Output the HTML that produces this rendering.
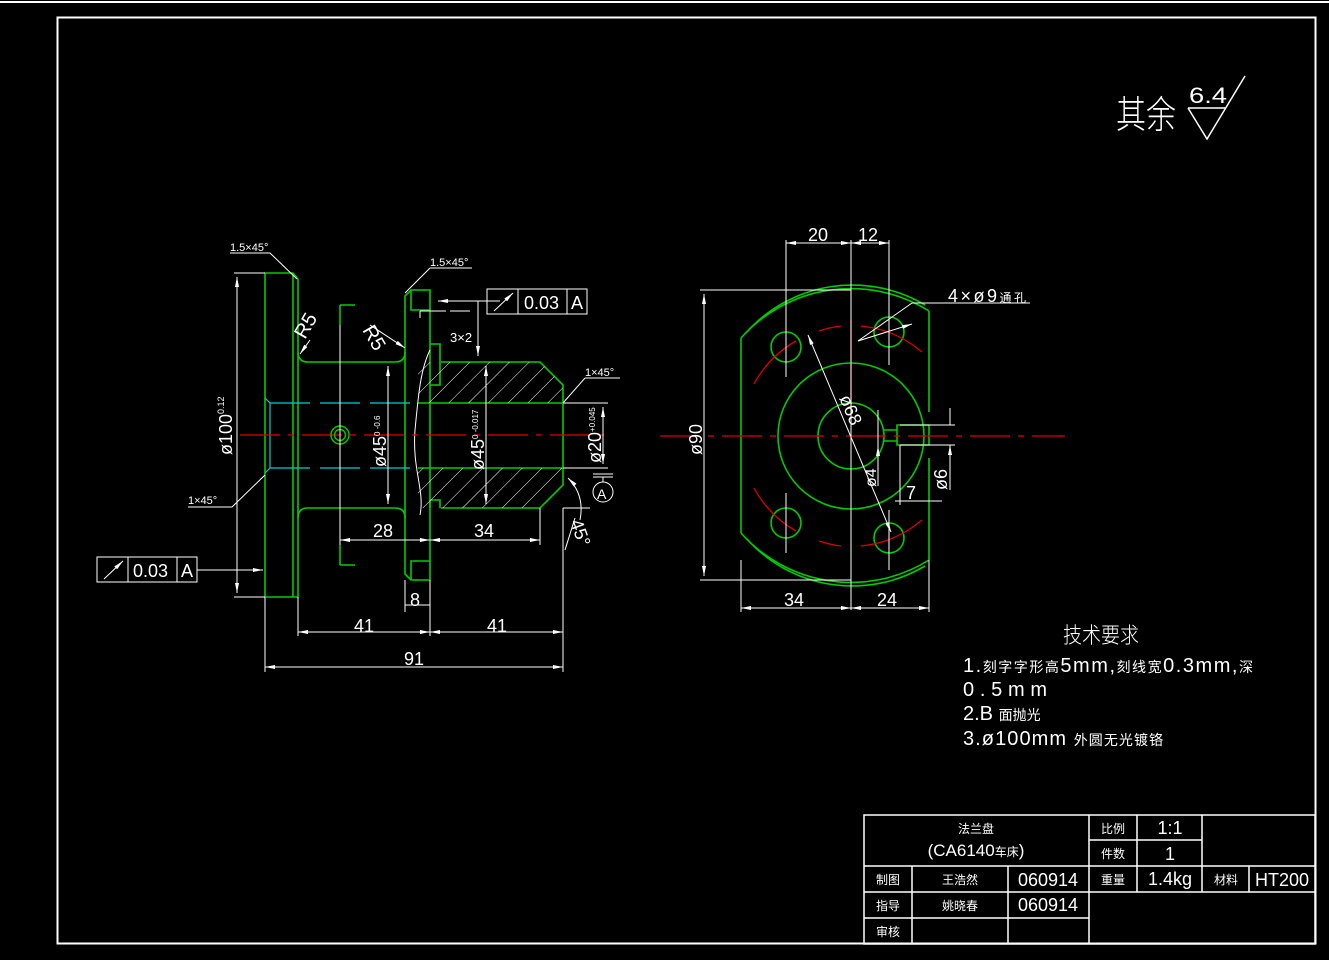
<!DOCTYPE html>
<html><head><meta charset="utf-8"><style>
html,body{margin:0;padding:0;background:#000;width:1329px;height:960px;overflow:hidden}
svg{display:block}
text{font-family:"Liberation Sans","Noto Sans CJK SC",sans-serif;fill:#fff}
</style></head><body>
<svg width="1329" height="960" viewBox="0 0 1329 960" xmlns="http://www.w3.org/2000/svg">
<defs>
<marker id="ar" viewBox="0 0 10 4" refX="10" refY="2" markerWidth="10" markerHeight="4" orient="auto-start-reverse" markerUnits="userSpaceOnUse"><path d="M0,0L10,2L0,4z" fill="#fff"/></marker>
<pattern id="hat" patternUnits="userSpaceOnUse" width="14" height="14" patternTransform="rotate(45)"><line x1="0" y1="0" x2="0" y2="14" stroke="#fff" stroke-width="1"/></pattern>
</defs>
<rect width="1329" height="960" fill="#000"/>
<line x1="0" y1="2" x2="1329" y2="2" stroke="#fff" stroke-width="2"/>
<rect x="57.5" y="17.5" width="1258" height="926" fill="none" stroke="#fff" stroke-width="2"/>

<text x="1116" y="128" font-size="38" font-family="Noto Sans CJK SC" font-weight="200" textLength="60" lengthAdjust="spacingAndGlyphs">其余</text>
<text x="1189" y="103" font-size="22" textLength="38" lengthAdjust="spacingAndGlyphs">6.4</text>
<path d="M1188,108H1226M1188,108L1207,139L1245,76" fill="none" stroke="#fff" stroke-width="1.5"/>

<!-- ============ LEFT VIEW ============ -->
<g fill="none" stroke="#0c0" stroke-width="1.6">
<path d="M265,273H293L298,279V597H265Z"/>
<path d="M293,273V597"/>
<path d="M298,352Q298,362 308,362H395Q405,362 405,352"/>
<path d="M298,518Q298,508 308,508H395Q405,508 405,518"/>
<path d="M405,296L411,290H430V580H411L405,574Z"/>
<path d="M411,290V310H430M411,580V561H430"/>
<path d="M441,362H540L563,385V485L540,508H441"/>
<path d="M430,344H440V385H430M430,508V500H440V508"/>
<path d="M418,403H563M418,468H563"/>
<path d="M340,305V325M340,305H355M340,565V545M340,565H355"/>
</g>
<rect x="418" y="362" width="122" height="41" fill="url(#hat)"/>
<path d="M540,362L563,385V403H540Z" fill="url(#hat)"/>
<rect x="418" y="468" width="122" height="40" fill="url(#hat)"/>
<path d="M540,508L563,485V468H540Z" fill="url(#hat)"/>
<path d="M430,350C420,370 418,400 415,430C412,470 425,490 420,515" fill="none" stroke="#fff" stroke-width="1"/>
<g stroke="#0cc" stroke-width="1.2" stroke-dasharray="40,10">
<path d="M270,403H418M270,468H418"/>
</g>
<path d="M265,398L270,403V468L265,473" fill="none" stroke="#0cc" stroke-width="1.2"/>
<line x1="240" y1="435" x2="610" y2="435" stroke="#d00" stroke-width="1.2" stroke-dasharray="40,8,6,8"/>
<circle cx="340" cy="435" r="9" fill="none" stroke="#0c0" stroke-width="1.4"/>
<circle cx="340" cy="435" r="5.5" fill="none" stroke="#0c0" stroke-width="1.4"/>

<g stroke="#fff" stroke-width="1" fill="none">
<path d="M234,273H265M234,597H265"/>
<path d="M237,277V593" marker-start="url(#ar)" marker-end="url(#ar)"/>
<path d="M265,597V672M563,508V672M298,597V636M430,580V636"/>
<path d="M265,667H563" marker-start="url(#ar)" marker-end="url(#ar)"/>
<path d="M298,632H430" marker-start="url(#ar)" marker-end="url(#ar)"/>
<path d="M430,632H563" marker-start="url(#ar)" marker-end="url(#ar)"/>
<path d="M405,605H430"/><path d="M405,580V612M430,580V612"/>
<path d="M340,325V545"/>
<path d="M340,540H430" marker-start="url(#ar)" marker-end="url(#ar)"/>
<path d="M430,540H540" marker-start="url(#ar)" marker-end="url(#ar)"/>
<path d="M540,508V545M563,508H590"/>
<path d="M388,366V504" marker-start="url(#ar)" marker-end="url(#ar)"/>
<path d="M486,366V504" marker-start="url(#ar)" marker-end="url(#ar)"/>
<path d="M563,403H608M563,468H608"/>
<path d="M603,407V464" marker-start="url(#ar)" marker-end="url(#ar)"/>
<path d="M230,253H270L297,279"/>
<path d="M430,268H472M430,268L405,293"/>
<path d="M585,378H620M585,378L563,403"/>
<path d="M188,507H232L265,475"/>
<path d="M310,340L300,354" marker-end="url(#ar)"/>
<path d="M370,325L405,348" marker-end="url(#ar)"/>
<path d="M420,311H446M450,311H470M420,311V318"/>
<rect x="487" y="289" width="100" height="25"/>
<path d="M518,289V314M567,289V314"/>
<path d="M494,311L513,293" marker-end="url(#ar)"/>
<path d="M487,301H500"/>
<path d="M500,301H438" marker-end="url(#ar)"/>
<path d="M478,301V356" marker-end="url(#ar)"/>
<rect x="97" y="557" width="100" height="25"/>
<path d="M128,557V582M177,557V582"/>
<path d="M104,579L123,561" marker-end="url(#ar)"/>
<path d="M197,570H263" marker-end="url(#ar)"/>
<path d="M593,474H613M593,477H613M603,477V482"/>
<circle cx="603" cy="492" r="10"/>
<path d="M568,478Q585,495 580,520" marker-start="url(#ar)"/>
<path d="M575,518L565,550"/>
</g>
<g font-size="18">
<text x="373" y="537">28</text><text x="474" y="537">34</text>
<text x="354" y="632">41</text><text x="487" y="632">41</text>
<text x="404" y="665">91</text><text x="410" y="606">8</text>
<text x="524" y="309">0.03</text><text x="571" y="309">A</text>
<text x="133" y="577">0.03</text><text x="181" y="577">A</text>
<text x="597" y="499" font-size="14">A</text>
</g>
<g font-size="11">
<text x="230" y="251">1.5×45°</text><text x="430" y="266">1.5×45°</text>
<text x="585" y="376">1×45°</text><text x="188" y="504">1×45°</text>
<text x="450" y="342" font-size="13">3×2</text>
</g>
<text transform="translate(232,455) rotate(-90)" font-size="18">ø100<tspan font-size="9" dy="-8">0.12</tspan></text>
<text transform="translate(386,467) rotate(-90)" font-size="18">ø45<tspan font-size="8" dy="-6">0 -0.6</tspan></text>
<text transform="translate(484,470) rotate(-90)" font-size="18">ø45<tspan font-size="8" dy="-6">0 -0.017</tspan></text>
<text transform="translate(601,463) rotate(-90)" font-size="18">ø20<tspan font-size="8" dy="-6">+0.045</tspan></text>
<text transform="translate(305,340) rotate(-60)" font-size="20">R5</text>
<text transform="translate(362,330) rotate(60)" font-size="20">R5</text>
<text transform="translate(570,522) rotate(70)" font-size="18">45°</text>

<!-- ============ RIGHT VIEW ============ -->
<g fill="none" stroke="#0c0" stroke-width="1.6">
<path d="M741,338A147,147 0 0 1 929,311M741,533A147,147 0 0 0 929,560"/>
<path d="M746,333A142,142 0 0 1 925,305M746,538A142,142 0 0 0 925,566"/>
<path d="M741,338V533M929,311V412M929,458V560"/>
<circle cx="851" cy="436" r="73"/>
<circle cx="851" cy="436" r="33"/>
<circle cx="786" cy="347" r="15"/><circle cx="889" cy="332" r="15"/>
<circle cx="786" cy="523" r="15"/><circle cx="889" cy="538" r="15"/>
<path d="M883,430H897V441H883M897,425H929V445H897Z"/>
</g>
<g fill="none" stroke="#d00" stroke-width="1.3">
<path d="M754,384A110,110 0 0 1 796,341M819,331A110,110 0 0 1 841,326M861,326A110,110 0 0 1 922,352"/>
<path d="M754,488A110,110 0 0 0 796,531M819,541A110,110 0 0 0 841,546M861,546A110,110 0 0 0 922,520"/>
<path d="M660,436H1065" stroke-dasharray="40,8,6,8"/>
<path d="M851,320V400"/>
</g>
<g stroke="#fff" stroke-width="1" fill="none">
<path d="M786,240V377M851,240V610M889,240V365M786,493V553M889,510V570"/>
<path d="M786,243H851" marker-start="url(#ar)" marker-end="url(#ar)"/>
<path d="M851,243H889" marker-start="url(#ar)" marker-end="url(#ar)"/>
<path d="M700,290H851M700,580H851"/>
<path d="M704,294V576" marker-start="url(#ar)" marker-end="url(#ar)"/>
<path d="M741,560V612M929,560V612"/>
<path d="M741,608H851" marker-start="url(#ar)" marker-end="url(#ar)"/>
<path d="M851,608H929" marker-start="url(#ar)" marker-end="url(#ar)"/>
<path d="M808,335L891,532" marker-start="url(#ar)" marker-end="url(#ar)"/>
<path d="M858,341L912,324" marker-end="url(#ar)"/>
<path d="M912,303L858,341M912,303H1030"/>
<path d="M878,410V486"/><path d="M878,415V425M878,455V446" marker-end="url(#ar)"/>
<path d="M900,425H955M900,445H955"/>
<path d="M950,408V425M950,462V445" marker-end="url(#ar)"/>
<path d="M950,445V490"/>
<path d="M900,445V505M895,501H942"/>
</g>
<g font-size="18">
<text x="808" y="241">20</text><text x="858" y="241">12</text>
<text x="784" y="606">34</text><text x="877" y="606">24</text>
<text x="906" y="499">7</text>
<text x="948" y="302" textLength="78" lengthAdjust="spacing">4×ø9<tspan font-size="12">通孔</tspan></text>
</g>
<text transform="translate(702,455) rotate(-90)" font-size="18">ø90</text>
<text transform="translate(947,490) rotate(-90)" font-size="18">ø6</text>
<text transform="translate(876,487) rotate(-90)" font-size="16">ø4</text>
<text transform="translate(839,398) rotate(67)" font-size="18">ø68</text>

<text x="1063" y="643" font-size="22" font-family="Noto Sans CJK SC" font-weight="300" textLength="76" lengthAdjust="spacingAndGlyphs">技术要求</text>
<g font-size="20">
<text x="963" y="672" textLength="290" lengthAdjust="spacing">1.<tspan font-size="14">刻字字形高</tspan>5mm,<tspan font-size="14">刻线宽</tspan>0.3mm,<tspan font-size="14">深</tspan></text>
<text x="963" y="696" textLength="84" lengthAdjust="spacing">0.5mm</text>
<text x="963" y="720">2.B <tspan font-size="14">面抛光</tspan></text>
<text x="963" y="745" textLength="200" lengthAdjust="spacing">3.ø100mm <tspan font-size="14">外圆无光镀铬</tspan></text>
</g>

<g stroke="#fff" stroke-width="1.5" fill="none">
<rect x="864" y="815" width="451" height="129"/>
<path d="M864,866H1315M864,892H1315M864,918H1089"/>
<path d="M912,866V944M1008,866V944M1089,815V944M1137,815V892M1202,815V892M1249,866V892M1089,840H1202"/>
</g>
<g font-size="12" text-anchor="middle">
<text x="976" y="833">法兰盘</text>
<text x="976" y="856" font-size="17">(CA6140<tspan font-size="12">车床</tspan>)</text>
<text x="888" y="884">制图</text><text x="888" y="910">指导</text><text x="888" y="936">审核</text>
<text x="960" y="884">王浩然</text><text x="960" y="910">姚晓春</text>
<text x="1113" y="833">比例</text><text x="1113" y="858">件数</text><text x="1113" y="884">重量</text>
<text x="1226" y="884">材料</text>
</g>
<g font-size="18">
<text x="1048" y="886" text-anchor="middle">060914</text>
<text x="1048" y="911" text-anchor="middle">060914</text>
<text x="1170" y="834" text-anchor="middle">1:1</text>
<text x="1170" y="860" text-anchor="middle">1</text>
<text x="1170" y="885" text-anchor="middle">1.4kg</text>
<text x="1282" y="886" text-anchor="middle">HT200</text>
</g>
</svg>
</body></html>
